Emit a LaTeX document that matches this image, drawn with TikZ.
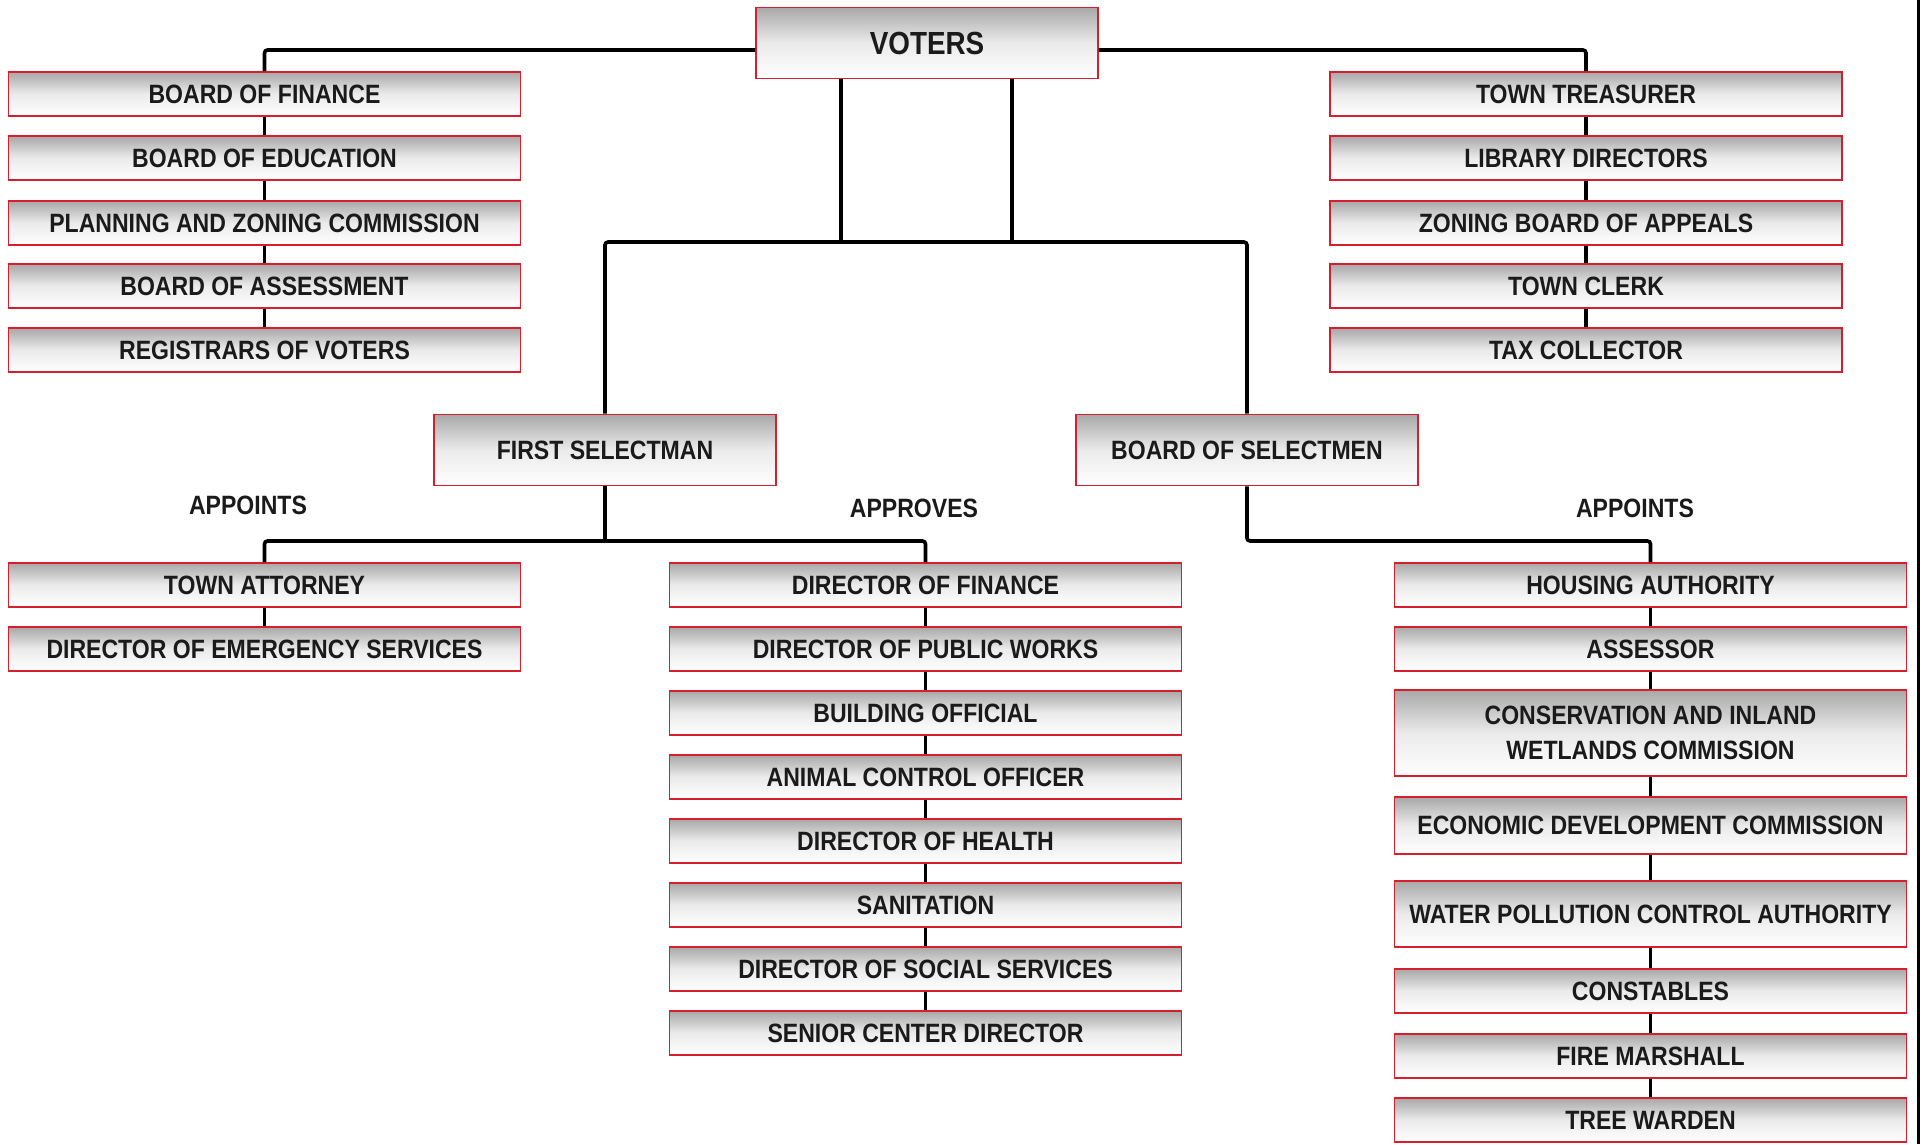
\documentclass[tikz,border=0pt]{standalone}
\usepackage{fontspec}
\setmainfont{Liberation Sans}[FakeStretch=0.87]
\definecolor{boxred}{RGB}{214,30,44}
\definecolor{inkblack}{RGB}{26,26,26}

\begin{document}
\begin{tikzpicture}[
    x=1pt,y=-1pt,
    office/.style={draw=boxred,line width=1.6pt,
                   top color=black!34,bottom color=white,middle color=black!8,
                   text=inkblack,font=\bfseries\fontsize{26.5}{35.5}\selectfont,
                   align=center,inner sep=0pt,
                   minimum width=512pt,minimum height=#1},
    office/.default=44pt,
    headbox/.style={office=71pt,minimum width=342pt},
    link/.style={line width=3.6pt,rounded corners=3pt},
    tag/.style={text=inkblack,font=\bfseries\fontsize{26.5}{30}\selectfont},
  ]
  \useasboundingbox (0,0) rectangle (1923,1144);

  % top of the chart
  \node[headbox,font=\bfseries\fontsize{32}{36}\selectfont] (voters) at (927,43) {VOTERS};
  \node[headbox] (fsel) at (605,450) {FIRST SELECTMAN};
  \node[headbox] (bsel) at (1247,450) {BOARD OF SELECTMEN};

  % elected boards, left and right
  \foreach \n/\y/\t in {bfin/94/BOARD OF FINANCE,bedu/158/BOARD OF EDUCATION,
                        plan/223/PLANNING AND ZONING COMMISSION,
                        bass/286/BOARD OF ASSESSMENT,regv/350/REGISTRARS OF VOTERS}{
    \node[office] (\n) at (264.5,\y) {\t};
  }
  \foreach \n/\y/\t in {ttre/94/TOWN TREASURER,libd/158/LIBRARY DIRECTORS,
                        zbap/223/ZONING BOARD OF APPEALS,
                        tcle/286/TOWN CLERK,taxc/350/TAX COLLECTOR}{
    \node[office] (\n) at (1586,\y) {\t};
  }

  % appointed by the first selectman
  \foreach \n/\y/\t in {tatt/585/TOWN ATTORNEY,demg/649/DIRECTOR OF EMERGENCY SERVICES}{
    \node[office] (\n) at (264.5,\y) {\t};
  }
  \foreach \n/\y/\t in {dfin/585/DIRECTOR OF FINANCE,dpw/649/DIRECTOR OF PUBLIC WORKS,
                        bofc/713/BUILDING OFFICIAL,aco/777/ANIMAL CONTROL OFFICER,
                        dhea/841/DIRECTOR OF HEALTH,sani/905/SANITATION,
                        dsoc/969/DIRECTOR OF SOCIAL SERVICES,scen/1033/SENIOR CENTER DIRECTOR}{
    \node[office] (\n) at (925.5,\y) {\t};
  }

  % appointed by the board of selectmen
  \foreach \n/\y/\h/\t in {hous/585/44/HOUSING AUTHORITY,asse/649/44/ASSESSOR,
                           cons/733/86/{CONSERVATION AND INLAND\\WETLANDS COMMISSION},
                           econ/825.5/57/ECONOMIC DEVELOPMENT COMMISSION,
                           wpca/914/66/WATER POLLUTION CONTROL AUTHORITY,
                           cstb/991/44/CONSTABLES,fmar/1056/44/FIRE MARSHALL,
                           tree/1120/44/TREE WARDEN}{
    \node[office=\h pt] (\n) at (1650.5,\y) {\t};
  }

  \node[tag] (lapp) at (248,505) {APPOINTS};
  \node[tag] (mapp) at (914,508) {APPROVES};
  \node[tag] (rapp) at (1635,508) {APPOINTS};

  % connectors
  \coordinate (bus) at (927,242);
  \coordinate (fbus) at (605,541);
  \draw[link] ([yshift=-7pt]voters.west) -| (bfin.north);
  \draw[link] ([yshift=-7pt]voters.east) -| (ttre.north);
  \draw[link] (bfin) -- (bedu) -- (plan) -- (bass) -- (regv);
  \draw[link] (ttre) -- (libd) -- (zbap) -- (tcle) -- (taxc);
  \draw[link] ([xshift=-86pt]voters.south) -- ([xshift=-86pt]voters.south |- bus);
  \draw[link] ([xshift=85pt]voters.south) -- ([xshift=85pt]voters.south |- bus);
  \draw[link] (fsel.north) |- (bus) -| (bsel.north);
  \draw[link] (fsel.south) -- (fbus);
  \draw[link] (tatt.north) |- (fbus) -| (dfin.north);
  \draw[link] (bsel.south) |- (hous.north |- fbus) -- (hous.north);
  \draw[link] (tatt) -- (demg);
  \draw[link] (dfin) -- (dpw) -- (bofc) -- (aco) -- (dhea) -- (sani) -- (dsoc) -- (scen);
  \draw[link] (hous) -- (asse) -- (cons) -- (econ) -- (wpca) -- (cstb) -- (fmar) -- (tree);

  % frame edge on the right
  \draw[line width=3pt] (1918,0) -- (1918,1144);
\end{tikzpicture}
\end{document}
